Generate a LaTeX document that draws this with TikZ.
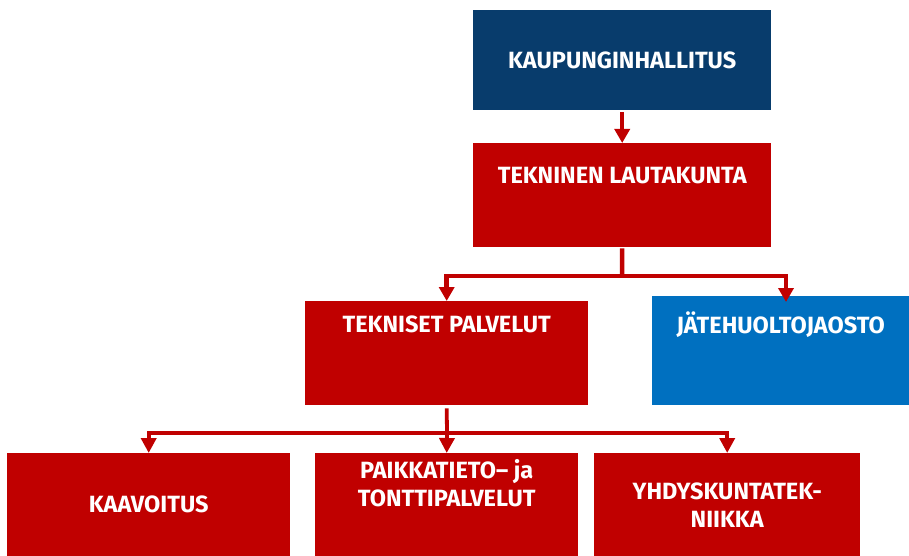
\documentclass[tikz,border=0pt]{standalone}
\usepackage{fontspec}
\setmainfont{Fira Sans}
\usetikzlibrary{arrows.meta}
\definecolor{darkblue}{HTML}{083C6C}
\definecolor{midblue}{HTML}{0070C0}
\definecolor{boxred}{HTML}{C00000}
\tikzset{
  box/.style={fill=#1, draw=none, inner sep=0pt, anchor=north west, text=white,
    font=\bfseries\fontsize{23.5}{28}\selectfont, align=center},
  lbl/.style={text=white, font=\bfseries\fontsize{23.5}{28}\selectfont, align=center, inner sep=0pt},
  conn/.style={draw=boxred, line width=4.5pt},
  arr/.style={conn, -{Triangle[width=15pt,length=14pt]}},
  conn2/.style={draw=boxred, line width=3.8pt},
  arr2/.style={conn2, -{Triangle[width=15pt,length=15pt]}}
}
\begin{document}
\begin{tikzpicture}[x=1pt,y=-1pt]
\useasboundingbox (0,0) rectangle (909,556);
\node[box=darkblue, minimum width=298pt, minimum height=100pt] (kh) at (473,10) {KAUPUNGINHALLITUS};
\node[box=boxred, minimum width=298pt, minimum height=104pt,
  label={[lbl, anchor=center, yshift=-33pt]north:TEKNINEN LAUTAKUNTA}] (tl) at (473,143) {};
\node[box=boxred, minimum width=283pt, minimum height=104pt,
  label={[lbl, anchor=center, yshift=-23pt]north:TEKNISET PALVELUT}] (tp) at (305,301) {};
\node[box=midblue, minimum width=257pt, minimum height=109pt,
  label={[lbl, anchor=center, yshift=-29pt]north:JÄTEHUOLTOJAOSTO}] (jt) at (652,296) {};
\node[box=boxred, minimum width=283pt, minimum height=103pt] (ka) at (7,453) {KAAVOITUS};
\node[box=boxred, minimum width=263pt, minimum height=103pt,
  label={[lbl, anchor=center, yshift=-30pt]north:PAIKKATIETO– ja\\TONTTIPALVELUT}] (pk) at (315,453) {};
\node[box=boxred, minimum width=266pt, minimum height=103pt] (yt) at (594,453) {YHDYSKUNTATEK-\\NIIKKA};
\coordinate (j1) at (622,276);
\coordinate (jtin) at (786,302);
\coordinate (j2) at (447,433);
\draw[arr] ([yshift=-2pt]kh.south) -- (tl.north);
\draw[conn] ([yshift=-1pt]tl.south) -- (j1);
\draw[arr] (j1) -| (tp.north);
\draw[arr] (j1) -| (jtin);
\draw[conn2] ([yshift=-3pt]tp.south) -- (j2);
\draw[arr2] (j2) -| (ka.north);
\draw[arr2] (j2) -- (pk.north);
\draw[arr2] (j2) -| (yt.north);
\end{tikzpicture}
\end{document}
